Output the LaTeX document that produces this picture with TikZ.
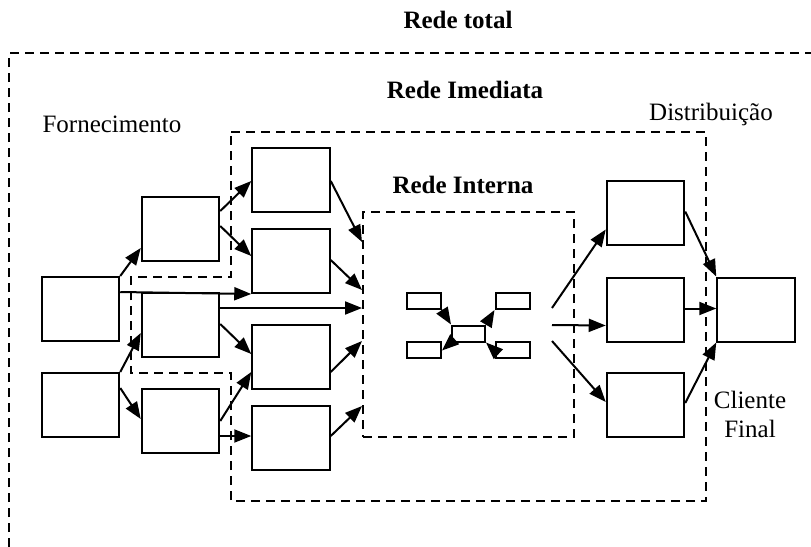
\documentclass[tikz,border=0pt]{standalone}
\usepackage{fontspec}
\setmainfont{Liberation Serif}
\usetikzlibrary{arrows.meta,calc}

\tikzset{
  caixa/.style={draw, black, line width=1pt, minimum width=38.75pt, minimum height=32pt, inner sep=0pt},
  caixinha/.style={draw, black, line width=1pt, minimum width=17pt, minimum height=8pt, inner sep=0pt},
  seta/.style={black, line width=1pt, -{Triangle[length=8.5pt, width=6.5pt]}},
  limite/.style={black, line width=1pt, dash pattern=on 4.5pt off 3pt},
}

\begin{document}
\begin{tikzpicture}[x=0.5pt, y=-0.5pt, font=\fontsize{12.5}{14.5}\selectfont]
\useasboundingbox (0,0) rectangle (811,547);

% limites das redes
\draw[limite] (9,547) -- (9,53) -- (811,53);
\draw[limite] (231,132) -- (706,132) -- (706,501) -- (231,501) -- (231,373)
  -- (131,373) -- (131,277) -- (231,277) -- cycle;
\node[limite, draw, minimum width=105.5pt, minimum height=112.5pt, inner sep=0pt] (interna) at (468.5,324.5) {};

\node[anchor=base, font=\fontsize{12.5}{14.5}\selectfont\bfseries] (total) at (458,28) {Rede total};
\node[anchor=base, font=\fontsize{12.5}{14.5}\selectfont\bfseries] (imediata) at (465,98) {Rede Imediata};
\node[anchor=base, font=\fontsize{12.5}{14.5}\selectfont\bfseries] (internatit) at (463,193) {Rede Interna};
\node[anchor=base] (fornec) at (112,132) {Fornecimento};
\node[anchor=base] (distrib) at (711,120) {Distribuição};
\node[align=center] (cliente) at (750,414) {Cliente\\Final};

% fornecedores
\node[caixa] (a1) at (80.5,309) {};
\node[caixa] (a2) at (80.5,405) {};
\node[caixa] (b1) at (180.5,229) {};
\node[caixa] (b2) at (180.5,325) {};
\node[caixa] (b3) at (180.5,421) {};
\node[caixa] (c1) at (291,180) {};
\node[caixa] (c2) at (291,261) {};
\node[caixa] (c3) at (291,357) {};
\node[caixa] (c4) at (291,438) {};

% distribuidores e cliente
\node[caixa] (d1) at (645.5,212.5) {};
\node[caixa] (d2) at (645.5,309.5) {};
\node[caixa] (d3) at (645.5,405) {};
\node[caixa] (e) at (756,309.5) {};

% rede interna
\node[caixinha] (s1) at (424,301) {};
\node[caixinha] (s2) at (512.5,301) {};
\node[caixinha] (s3) at (424,349.5) {};
\node[caixinha] (s4) at (512.5,349.5) {};
\node[caixinha, minimum width=16.5pt] (m) at (468.5,333.5) {};

\draw[seta] (a1.north east) -- ($(b1.south west)+(0,-14)$);
\draw[seta] ($(a1.north east)+(0,16)$) -- (c2.south west);
\draw[seta] (a2.north east) -- ($(b2.south west)+(0,-25)$);
\draw[seta] ($(a2.north east)+(0,16)$) -- ($(b3.north west)+(0,31)$);
\draw[seta] ($(b1.north east)+(0,15)$) -- ($(c1.north west)+(0,34)$);
\draw[seta] ($(b1.north east)+(0,30)$) -- ($(c2.north west)+(0,28)$);
\draw[seta] ($(b2.north east)+(0,16)$) -- ($(interna.north west)+(0,97)$);
\draw[seta] ($(b2.north east)+(0,32)$) -- ($(c3.north west)+(0,30)$);
\draw[seta] ($(b3.north east)+(0,33)$) -- ($(c3.north west)+(0,48)$);
\draw[seta] ($(b3.north east)+(0,48)$) -- ($(c4.north west)+(0,31)$);
\draw[seta] ($(c1.north east)+(0,34)$) -- ($(interna.north west)+(0,31)$);
\draw[seta] ($(c2.north east)+(0,32)$) -- ($(interna.north west)+(0,79)$);
\draw[seta] ($(c3.north east)+(0,48)$) -- ($(interna.north west)+(0,130)$);
\draw[seta] ($(c4.north east)+(0,31)$) -- ($(interna.north west)+(0,195)$);

\draw[seta] (s1.south east) -- (m.north west);
\draw[seta] (m.north east) -- (s2.south west);
\draw[seta] (m.south west) -- ($(s3.north east)+(0,10)$);
\draw[seta] ($(s4.north west)+(0,10)$) -- (m.south east);

\draw[seta] ($(interna.north east)+(-23,97)$) -- ($(d1.north west)+(0,50)$);
\draw[seta] ($(interna.north east)+(-23,114)$) -- ($(d2.north west)+(0,49)$);
\draw[seta] ($(interna.north east)+(-23,130)$) -- ($(d3.north west)+(0,30)$);
\draw[seta] ($(d1.north east)+(0,32)$) -- (e.north west);
\draw[seta] ($(d2.north east)+(0,32)$) -- ($(e.north west)+(0,32)$);
\draw[seta] ($(d3.north east)+(0,31)$) -- (e.south west);
\end{tikzpicture}
\end{document}
